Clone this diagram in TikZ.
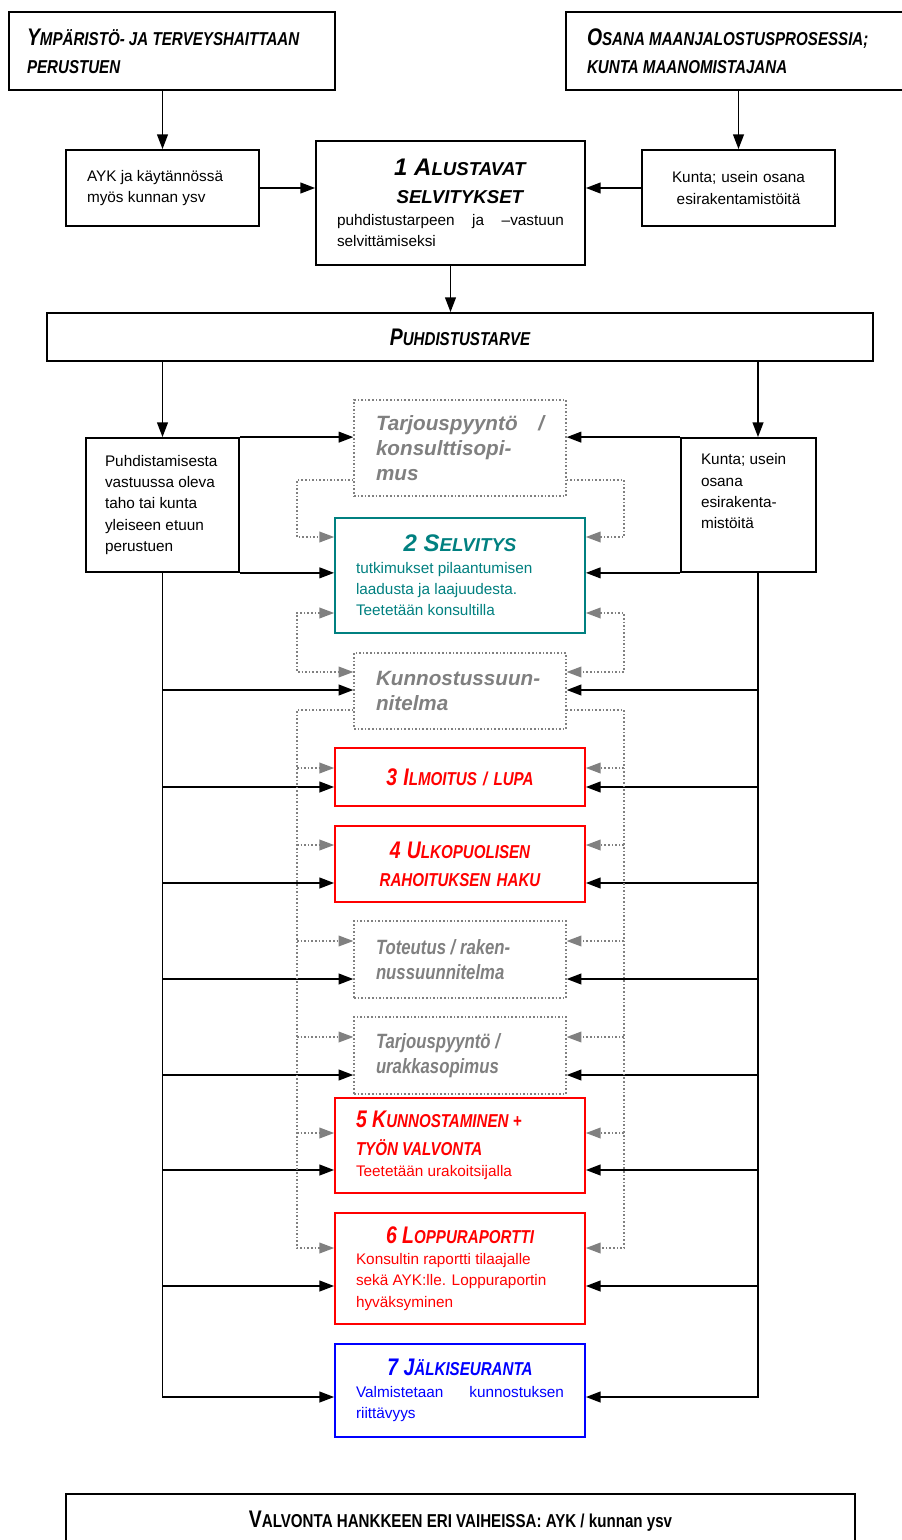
\documentclass[tikz,border=0pt]{standalone}
\usepackage{fontspec}
\setmainfont{Liberation Sans}
\newfontfamily\narf{Liberation Sans}[FakeStretch=0.81]
\usetikzlibrary{arrows.meta}
\newcommand{\tbig}[1]{{\fontsize{18}{21}\selectfont #1}}
\newcommand{\ttl}{\bfseries\itshape\fontsize{14}{21}\selectfont}
\newcommand{\hdr}{\narf\ttl}
\newcommand{\gry}{\bfseries\itshape\fontsize{15.5}{18.5}\selectfont}
\hyphenpenalty=10000
\begin{document}
\begin{tikzpicture}[x=0.75pt, y=-0.75pt,
  box/.style={draw, line width=1.3pt, inner ysep=2pt, font=\fontsize{11.5}{16}\selectfont},
  stepbox/.style={box, text width=156pt, inner xsep=15.75pt, minimum width=187.5pt, align=flush left},
  dotbox/.style={draw=gray, line width=1pt, dash pattern=on 1.2pt off 1.5pt, text=gray, inner ysep=2pt,
    text width=126pt, inner xsep=16.5pt, minimum width=159pt, align=flush left, font=\gry},
  arr/.style={line width=1.4pt, -{Triangle[length=11pt,width=8pt]}},
  gline/.style={gray, line width=1pt, dash pattern=on 1.2pt off 1.5pt},
  garr/.style={gline, -{Triangle[length=11pt,width=8pt]}},
  gboth/.style={gline, {Triangle[length=11pt,width=8pt]}-{Triangle[length=11pt,width=8pt]}}]
  \path[use as bounding box, fill=white] (0,0) rectangle (901,1540);

  \node[box, font=\hdr, text width=217.5pt, inner xsep=13.5pt, minimum width=244.5pt, minimum height=58.5pt, align=flush left] (hy) at (172,51) {\tbig{Y}MPÄRISTÖ- JA TERVEYSHAITTAAN\\PERUSTUEN};
  \node[box, font=\hdr, text width=222.75pt, inner xsep=15.75pt, minimum width=254.25pt, minimum height=58.5pt, align=flush left] (ho) at (735.5,51) {\tbig{O}SANA MAANJALOSTUSPROSESSIA;\\KUNTA MAANOMISTAJANA};
  \node[box, text width=113.25pt, inner xsep=15.75pt, minimum width=144.75pt, minimum height=57pt, align=flush left] (ayk) at (162.5,188) {AYK ja käytännössä\\myös kunnan ysv};
  \node[box, text width=170.25pt, inner xsep=15.75pt, minimum width=201.75pt, minimum height=93pt, align=flush left] (s1) at (450.5,203) {{\centering\ttl\hspace*{14pt}\tbig{1 A}LUSTAVAT\\\hspace*{14pt}SELVITYKSET\par}puhdistustarpeen\hfill ja\hfill –vastuun\\selvittämiseksi};
  \node[box, text width=113.25pt, inner xsep=15.75pt, minimum width=144.75pt, minimum height=57pt, align=center] (kun) at (738.5,188) {Kunta; usein osana\\esirakentamistöitä};
  \node[box, font=\hdr, minimum width=619.5pt, minimum height=36pt] (tarve) at (460,337) {\tbig{P}UHDISTUSTARVE};
  \node[box, text width=86.25pt, inner xsep=14.25pt, minimum width=114.75pt, minimum height=100.5pt, align=flush left] (lb) at (162.5,505) {Puhdistamisesta\\vastuussa oleva\\taho tai kunta\\yleiseen etuun\\perustuen};
  \node[box, text width=71.25pt, inner xsep=15pt, minimum width=101.25pt, minimum height=100.5pt, align=flush left] (rb) at (748.5,505) {Kunta; usein\\osana\\esirakenta-\\mistöitä\\\strut};

  \node[dotbox, minimum height=72pt] (t1) at (460,448) {Tarjouspyyntö\hfill/\\konsulttisopi-\\mus};
  \node[stepbox, draw=teal, text=teal, minimum height=86.25pt] (s2) at (460,575.5) {{\centering\ttl\tbig{2 S}ELVITYS\par}tutkimukset pilaantumisen\\laadusta ja laajuudesta.\\Teetetään konsultilla};
  \node[dotbox, minimum height=57pt] (kp) at (460,691) {Kunnostussuun-\\nitelma};
  \node[stepbox, draw=red, text=red, align=center, font=\hdr, minimum height=43.5pt] (s3) at (460,777) {\tbig{3 I}LMOITUS / LUPA};
  \node[stepbox, draw=red, text=red, align=center, font=\hdr, minimum height=57pt] (s4) at (460,864) {\tbig{4 U}LKOPUOLISEN\\RAHOITUKSEN HAKU};
  \node[dotbox, font=\narf\gry, minimum height=57.75pt] (tt) at (460,959.5) {Toteutus / raken-\\nussuunnitelma};
  \node[dotbox, font=\narf\gry, minimum height=57.75pt] (t2) at (460,1055.5) {Tarjouspyyntö /\\urakkasopimus};
  \node[stepbox, draw=red, text=red, minimum height=71.25pt] (s5) at (460,1145.5) {{\hdr\tbig{5 K}UNNOSTAMINEN +\\TYÖN VALVONTA\par}Teetetään urakoitsijalla};
  \node[stepbox, draw=red, text=red, minimum height=83.25pt] (s6) at (460,1268.5) {{\centering\hdr\tbig{6 L}OPPURAPORTTI\par}Konsultin raportti tilaajalle\\sekä AYK:lle. Loppuraportin\\hyväksyminen};
  \node[stepbox, draw=blue, text=blue, minimum height=69.75pt] (s7) at (460,1390.5) {{\centering\hdr\tbig{7 J}ÄLKISEURANTA\par}Valmistetaan\hfill kunnostuksen\\riittävyys};
  \node[box, font=\narf\bfseries\fontsize{14}{21}\selectfont, minimum width=591.75pt, minimum height=40.5pt] (bot) at (460.5,1521) {\tbig{V}ALVONTA HANKKEEN ERI VAIHEISSA: AYK / kunnan ysv};

  \coordinate (rv) at (758,0);
  \coordinate (lg) at (297,0);
  \coordinate (rg) at (624,0);

  \draw[arr] (hy.south -| ayk.north) -- (ayk.north);
  \draw[arr] (ho.south -| kun.north) -- (kun.north);
  \draw[arr] (ayk.east) -- (ayk.east -| s1.west);
  \draw[arr] (kun.west) -- (kun.west -| s1.east);
  \draw[arr] (s1.south) -- (s1.south |- tarve.north);
  \draw[arr] (tarve.south -| lb.north) -- (lb.north);
  \draw[arr] (tarve.south -| rv) -- (rb.north -| rv);
  \draw[arr] (lb.north east) -- (lb.north east -| t1.west);
  \draw[arr] (lb.south east) -- (lb.south east -| s2.west);
  \draw[arr] (rb.north west) -- (rb.north west -| t1.east);
  \draw[arr] (rb.south west) -- (rb.south west -| s2.east);
  \draw[arr] (lb.south) |- (s7.west |- 0,1397);
  \draw[arr] (rb.south -| rv) |- (s7.east |- 0,1397);
  \foreach \n/\y in {kp/690, s3/787, s4/883, tt/979, t2/1075, s5/1170, s6/1286} {
    \draw[arr] (lb.south |- 0,\y) -- (\n.west |- 0,\y);
    \draw[arr] (rv |- 0,\y) -- (\n.east |- 0,\y);
  }

  \draw[garr] (t1.west |- 0,480) -| (lg |- 0,537) -- (s2.west |- 0,537);
  \draw[garr] (t1.east |- 0,480) -| (rg |- 0,537) -- (s2.east |- 0,537);
  \draw[gboth] (s2.west |- 0,613) -| (lg |- 0,672) -- (kp.west |- 0,672);
  \draw[gboth] (s2.east |- 0,613) -| (rg |- 0,672) -- (kp.east |- 0,672);
  \draw[garr] (kp.west |- 0,710) -| (lg |- 0,1248) -- (s6.west |- 0,1248);
  \draw[garr] (kp.east |- 0,710) -| (rg |- 0,1248) -- (s6.east |- 0,1248);
  \foreach \n/\y in {s3/768, s4/845, tt/941, t2/1037, s5/1133} {
    \draw[garr] (lg |- 0,\y) -- (\n.west |- 0,\y);
    \draw[garr] (rg |- 0,\y) -- (\n.east |- 0,\y);
  }
\end{tikzpicture}
\end{document}
